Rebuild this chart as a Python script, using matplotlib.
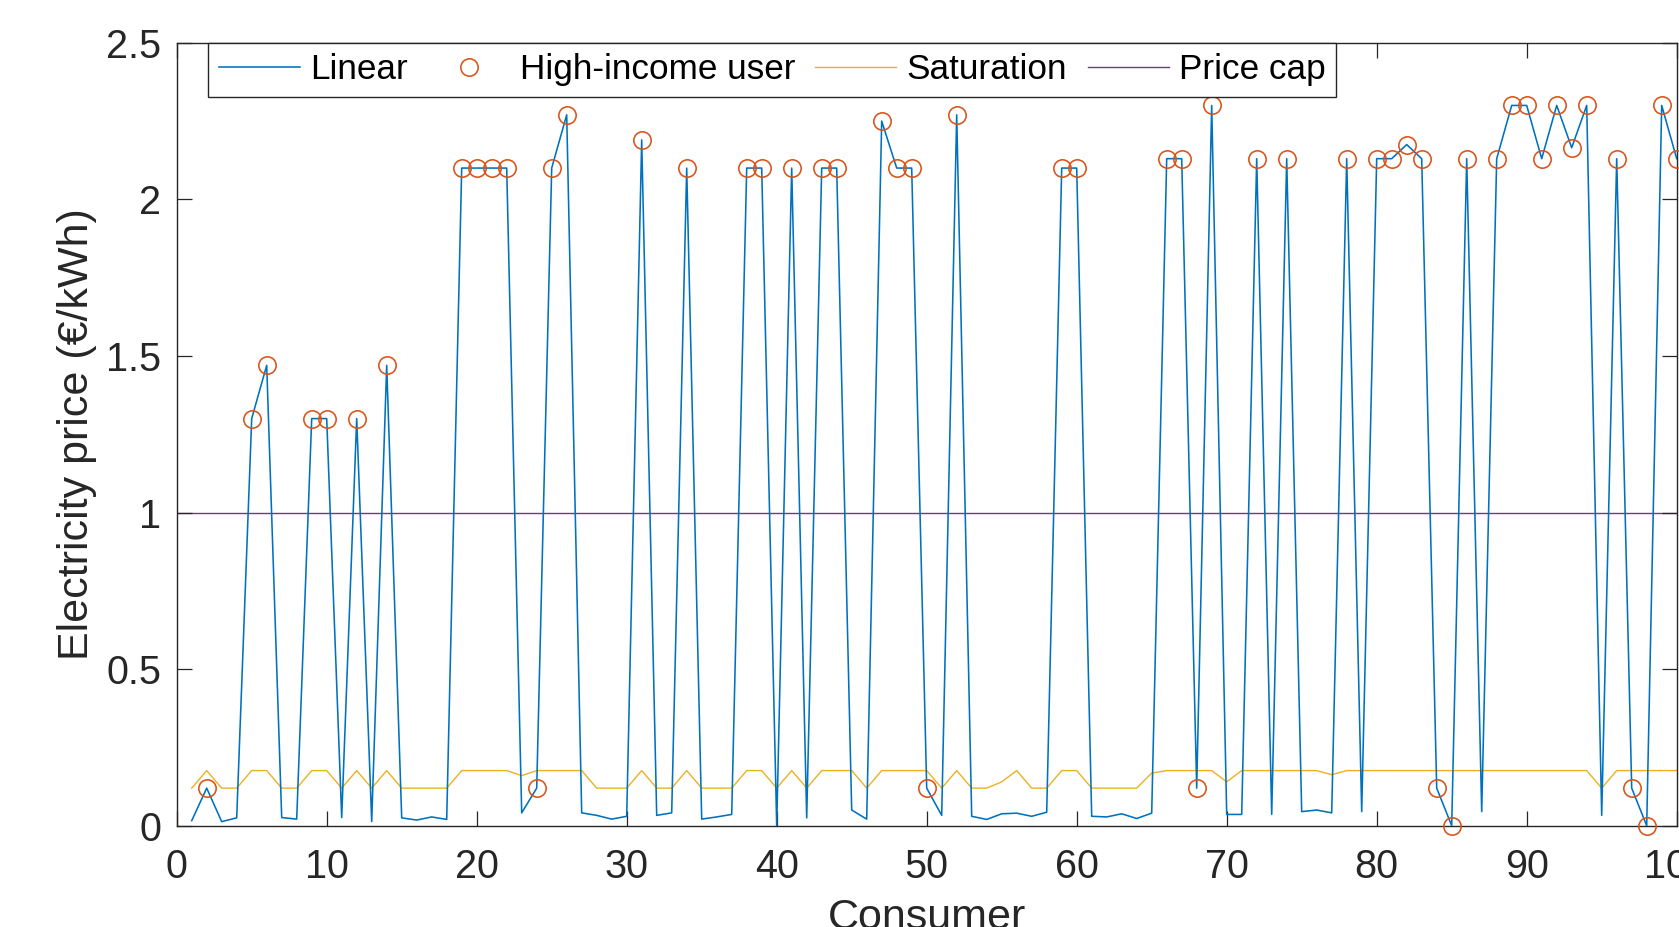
import matplotlib
matplotlib.use("Agg")
import matplotlib.pyplot as plt
import numpy as np

plt.rcParams['font.family'] = ['Liberation Sans', 'DejaVu Sans']

# ---------------- data ----------------
consumers = list(range(1, 101))

linear = [
    0.016, 0.12, 0.013, 0.025, 1.30, 1.47, 0.026, 0.021, 1.30, 1.30,
    0.026, 1.30, 0.013, 1.47, 0.025, 0.018, 0.028, 0.020, 2.10, 2.10,
    2.10, 2.10, 0.041, 0.12, 2.10, 2.27, 0.041, 0.033, 0.021, 0.030,
    2.19, 0.033, 0.041, 2.10, 0.021, 0.028, 0.036, 2.10, 2.10, 0.0,
    2.10, 0.025, 2.10, 2.10, 0.050, 0.021, 2.25, 2.10, 2.10, 0.12,
    0.033, 2.27, 0.030, 0.020, 0.038, 0.040, 0.030, 0.043, 2.10, 2.10,
    0.030, 0.028, 0.038, 0.023, 0.040, 2.13, 2.13, 0.12, 2.30, 0.036,
    0.036, 2.13, 0.036, 2.13, 0.045, 0.050, 0.041, 2.13, 0.045, 2.13,
    2.13, 2.175, 2.13, 0.12, 0.0, 2.13, 0.045, 2.13, 2.30, 2.30,
    2.13, 2.30, 2.165, 2.30, 0.033, 2.13, 0.12, 0.0, 2.30, 2.13,
]

high_income_users = [
    2, 5, 6, 9, 10, 12, 14, 19, 20, 21, 22, 24, 25, 26, 31, 34, 38, 39,
    41, 43, 44, 47, 48, 49, 50, 52, 59, 60, 66, 67, 68, 69, 72, 74, 78,
    80, 81, 82, 83, 84, 85, 86, 88, 89, 90, 91, 92, 93, 94, 96, 97, 98,
    99, 100,
]

saturation = [
    0.12, 0.176, 0.12, 0.12, 0.176, 0.176, 0.12, 0.12, 0.176, 0.176,
    0.12, 0.176, 0.12, 0.176, 0.12, 0.12, 0.12, 0.12, 0.176, 0.176,
    0.176, 0.176, 0.16, 0.176, 0.176, 0.176, 0.176, 0.12, 0.12, 0.12,
    0.176, 0.12, 0.12, 0.176, 0.12, 0.12, 0.12, 0.176, 0.176, 0.12,
    0.176, 0.12, 0.176, 0.176, 0.176, 0.12, 0.176, 0.176, 0.176, 0.176,
    0.12, 0.176, 0.12, 0.12, 0.14, 0.176, 0.12, 0.12, 0.176, 0.176,
    0.12, 0.12, 0.12, 0.12, 0.168, 0.176, 0.176, 0.176, 0.176, 0.14,
    0.176, 0.176, 0.176, 0.176, 0.176, 0.176, 0.163, 0.176, 0.176, 0.176,
    0.176, 0.176, 0.176, 0.176, 0.176, 0.176, 0.176, 0.176, 0.176, 0.176,
    0.176, 0.176, 0.176, 0.176, 0.12, 0.176, 0.176, 0.176, 0.176, 0.176,
]

price_cap = 1.0

x_ticks = [0, 10, 20, 30, 40, 50, 60, 70, 80, 90, 100]
y_ticks = [0, 0.5, 1, 1.5, 2, 2.5]
y_tick_labels = ['0', '0.5', '1', '1.5', '2', '2.5']

# ---------------- plot ----------------
fig = plt.figure(figsize=(16.79, 9.27), dpi=100)
ax = fig.add_axes([176.7 / 1679, 1 - 825.7 / 927, 1500 / 1679, 782.9 / 927])

blue = '#0072BD'
orange = '#D95319'
yellow = '#EDB120'
purple = '#7E2F8E'
dark = '#262626'

lin_map = dict(zip(consumers, linear))
hi_y = [lin_map[c] for c in high_income_users]

ax.plot(consumers, linear, color=blue, lw=1.15, label='Linear', zorder=3)
ax.plot(high_income_users, hi_y, linestyle='none', marker='o', ms=12.5,
        mfc='none', mec=orange, mew=1.15, label='High-income user', zorder=4,
        clip_on=False)
ax.plot(consumers, saturation, color=yellow, lw=1.0, label='Saturation', zorder=2)
ax.axhline(price_cap, color=purple, lw=1.0, label='Price cap', zorder=1)

ax.set_xlim(0, 100)
ax.set_ylim(0, 2.5)
ax.set_xticks(x_ticks)
ax.set_yticks(y_ticks)
ax.set_yticklabels(y_tick_labels)

ax.tick_params(direction='in', length=11, width=0.9, top=True, right=True,
               labelsize=28.5, colors=dark, labelcolor=dark)
ax.tick_params(axis='x', pad=16)
ax.tick_params(axis='y', pad=11)
for s in ax.spines.values():
    s.set_color(dark)
    s.set_linewidth(1.0)

ax.set_xlabel('Consumer', fontsize=31, color=dark, labelpad=9)
ax.set_ylabel('Electricity price (€/kWh)', fontsize=31, color=dark, labelpad=7)

leg = ax.legend(loc='upper left', bbox_to_anchor=(31.5 / 1500, 1.0), ncol=4,
                fontsize=25.3, frameon=True, fancybox=False, edgecolor=dark,
                framealpha=1, borderaxespad=0, handlelength=2.3,
                handletextpad=0.3, columnspacing=0.58, borderpad=0.3)
leg.get_frame().set_linewidth(1.0)

fig.savefig('out.png', dpi=100)
